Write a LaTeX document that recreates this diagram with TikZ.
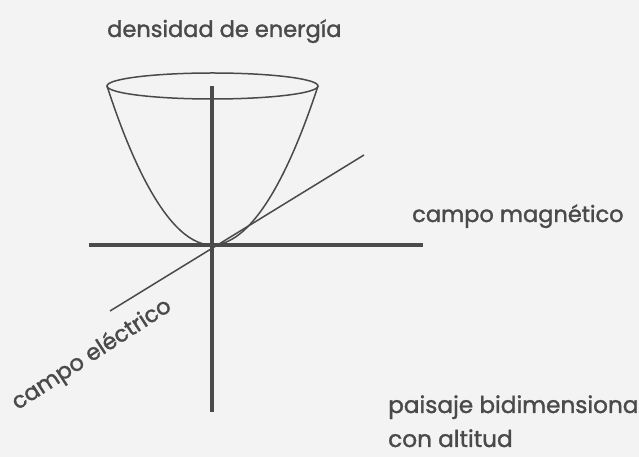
\documentclass[tikz,border=0pt]{standalone}
\usepackage{fontspec}
\setmainfont{Poppins}[FakeBold=1.4]
\definecolor{ink}{HTML}{4A4A4A}
\definecolor{paper}{HTML}{F3F3F3}
\tikzset{
  axis/.style={draw=ink, line width=4.5pt},
  thin/.style={draw=ink, line width=1.5pt},
  lbl/.style={text=ink, font=\fontsize{22.5}{27}\selectfont, inner sep=0pt},
}
\begin{document}
\begin{tikzpicture}[x=1pt,y=1pt]
  \fill[paper] (0,0) rectangle (639,457);
  \useasboundingbox (0,0) rectangle (639,457);
  % key points
  \coordinate (O) at (212,212);
  \coordinate (vtop) at (212,371);
  \coordinate (vbot) at (212,45);
  \coordinate (hleft) at (89,212);
  \coordinate (hright) at (423,212);
  \coordinate (dleft) at (110,146);
  \coordinate (dright) at (364,302);
  \coordinate (pl) at (107,371);
  \coordinate (pr) at (318,371);
  \coordinate (rimc) at (212.5,371);
  % bowl
  \draw[thin] (rimc) ellipse [x radius=105.5, y radius=13];
  \draw[thin] (pl) parabola bend (O) (pr);
  % axes
  \draw[thin] (dleft) -- (dright);
  \draw[axis] (hleft) -- (hright);
  \draw[axis] (vbot) -- (vtop);
  % labels
  \node[lbl, anchor=base west] (energia) at (107,420) {densidad de energía};
  \node[lbl, anchor=base west] (magn) at (412,235) {campo magnético};
  \node[lbl, anchor=center, rotate=33] (elec) at (92,102) {campo eléctrico};
  \node[lbl, anchor=base west] (paisaje) at (388,44) {\fontsize{23.2}{27}\selectfont paisaje bidimensiona};
  \node[lbl, anchor=base west] (altitud) at (388,10) {\fontsize{23.2}{27}\selectfont con altitud};
\end{tikzpicture}
\end{document}
